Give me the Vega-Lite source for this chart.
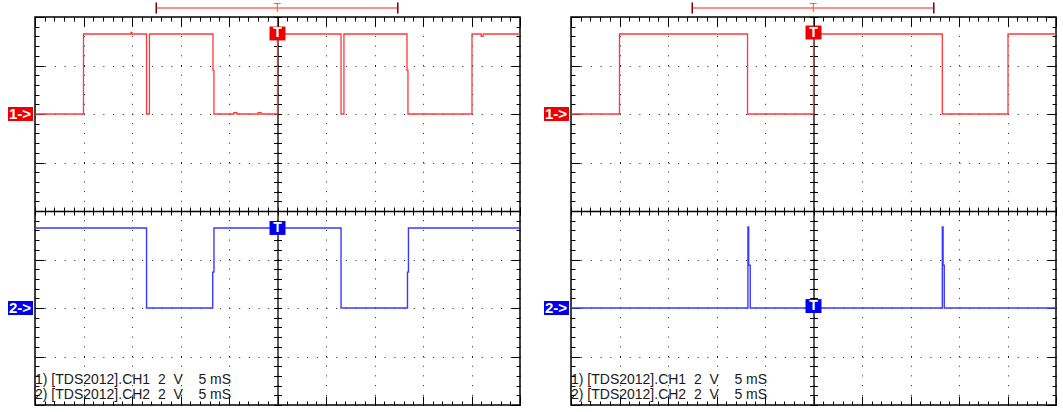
{
  "$schema": "https://vega.github.io/schema/vega-lite/v6.json",
  "background": "white",
  "padding": {"left": 7, "top": 1, "right": 0, "bottom": 0},
  "spacing": 51,
  "bounds": "flush",
  "config": {"view": {"stroke": "#000", "strokeWidth": 1.5}, "axis": {"zindex": 0}},
  "datasets": {
    "L1": [{"t":-25,"v":2},{"t":-20,"v":2},{"t":-20,"v":3.65},{"t":-15.1,"v":3.65},{"t":-15.1,"v":3.68},{"t":-15.0,"v":3.68},{"t":-15.0,"v":3.65},{"t":-13.5,"v":3.65},{"t":-13.5,"v":2},{"t":-13.2,"v":2},{"t":-13.2,"v":3.65},{"t":-6.65,"v":3.65},{"t":-6.65,"v":2.9},{"t":-6.55,"v":2.9},{"t":-6.55,"v":2},{"t":-4.5,"v":2},{"t":-4.5,"v":2.03},{"t":-4.2,"v":2.03},{"t":-4.2,"v":2},{"t":-2,"v":2},{"t":-2,"v":2.03},{"t":-1.7,"v":2.03},{"t":-1.7,"v":2},{"t":0,"v":2},{"t":0,"v":3.65},{"t":6.55,"v":3.65},{"t":6.55,"v":2},{"t":6.85,"v":2},{"t":6.85,"v":3.65},{"t":13.35,"v":3.65},{"t":13.35,"v":2.9},{"t":13.45,"v":2.9},{"t":13.45,"v":2},{"t":20.05,"v":2},{"t":20.05,"v":3.65},{"t":21.0,"v":3.65},{"t":21.0,"v":3.6},{"t":21.2,"v":3.6},{"t":21.2,"v":3.65},{"t":25,"v":3.65}],
    "L2": [{"t":-25,"v":-0.35},{"t":-13.5,"v":-0.35},{"t":-13.5,"v":-2},{"t":-6.68,"v":-2},{"t":-6.68,"v":-1.26},{"t":-6.55,"v":-1.26},{"t":-6.55,"v":-0.35},{"t":6.55,"v":-0.35},{"t":6.55,"v":-2},{"t":13.4,"v":-2},{"t":13.4,"v":-1.26},{"t":13.5,"v":-1.26},{"t":13.5,"v":-0.35},{"t":25,"v":-0.35}],
    "R1": [{"t":-25,"v":2},{"t":-20,"v":2},{"t":-20,"v":3.65},{"t":-6.8,"v":3.65},{"t":-6.8,"v":2},{"t":0,"v":2},{"t":0,"v":3.65},{"t":13.28,"v":3.65},{"t":13.28,"v":2},{"t":20.05,"v":2},{"t":20.05,"v":3.65},{"t":25,"v":3.65}],
    "R2": [{"t":-25,"v":-2},{"t":-6.76,"v":-2},{"t":-6.76,"v":-0.33},{"t":-6.68,"v":-0.33},{"t":-6.68,"v":-1.12},{"t":-6.52,"v":-1.12},{"t":-6.52,"v":-2},{"t":13.28,"v":-2},{"t":13.28,"v":-0.33},{"t":13.36,"v":-0.33},{"t":13.36,"v":-1.12},{"t":13.48,"v":-1.12},{"t":13.48,"v":-2},{"t":25,"v":-2}],
    "LM": [{"kind":"ref","ch":"CH1","label":"1->","t":-25,"v":2},{"kind":"ref","ch":"CH2","label":"2->","t":-25,"v":-2},{"kind":"trig","ch":"CH1","label":"T","t":0,"v":3.66},{"kind":"trig","ch":"CH2","label":"T","t":0,"v":-0.35}],
    "RM": [{"kind":"ref","ch":"CH1","label":"1->","t":-25,"v":2},{"kind":"ref","ch":"CH2","label":"2->","t":-25,"v":-2},{"kind":"trig","ch":"CH1","label":"T","t":0,"v":3.68},{"kind":"trig","ch":"CH2","label":"T","t":0,"v":-1.96}],
    "BR": [{"t":-12.5,"t2":12.4,"v":4.186}],
    "BRE": [{"part":"end","t":-12.5,"v":4.186},{"part":"end","t":12.4,"v":4.186},{"part":"trig","t":0,"v":4.186}],
    "TXT": [{"label":"1) [TDS2012].CH1\u00a0\u00a02\u00a0\u00a0V\u00a0\u00a0\u00a0\u00a05\u00a0mS","t":-25,"v":-3.567},{"label":"2) [TDS2012].CH2\u00a0\u00a02\u00a0\u00a0V\u00a0\u00a0\u00a0\u00a05\u00a0mS","t":-25,"v":-3.876}]
  },
  "hconcat": [
    {
      "width": 485, "height": 388,
      "resolve": {"axis": {"x": "independent", "y": "independent"}},
      "layer": [
        {"data": {"name": "L1"}, "mark": {"type": "line", "color": "#ff3838", "strokeWidth": 1.3},
         "encoding": {
           "x": {"field": "t", "type": "quantitative", "scale": {"domain": [-25, 25], "nice": false, "zero": false},
                 "axis": {"orient": "top", "title": null, "labels": false, "domain": false, "values": [-25,-24,-23,-22,-21,-20,-19,-18,-17,-16,-15,-14,-13,-12,-11,-10,-9,-8,-7,-6,-5,-4,-3,-2,-1,0,1,2,3,4,5,6,7,8,9,10,11,12,13,14,15,16,17,18,19,20,21,22,23,24,25],
                          "tickColor": "#000", "tickWidth": 1, "tickSize": {"condition": {"test": "datum.value % 5 === 0", "value": -9}, "value": -4},
                          "grid": true, "gridColor": "#222", "gridWidth": 1, "gridDash": [1, 8.7], "gridOpacity": {"condition": {"test": "datum.value % 5 === 0", "value": 1}, "value": 0}}},
           "y": {"field": "v", "type": "quantitative", "scale": {"domain": [-4, 4], "nice": false, "zero": false},
                 "axis": {"orient": "left", "title": null, "labels": false, "domain": false, "values": [-4,-3.8,-3.6,-3.4,-3.2,-3,-2.8,-2.6,-2.4,-2.2,-2,-1.8,-1.6,-1.4,-1.2,-1,-0.8,-0.6,-0.4,-0.2,0,0.2,0.4,0.6,0.8,1,1.2,1.4,1.6,1.8,2,2.2,2.4,2.6,2.8,3,3.2,3.4,3.6,3.8,4],
                          "tickColor": "#000", "tickWidth": 1, "tickSize": {"condition": {"test": "abs(datum.value - round(datum.value)) < 0.01", "value": -9}, "value": -4},
                          "grid": true, "gridColor": "#222", "gridWidth": 1, "gridDash": [1, 8.7], "gridOpacity": {"condition": {"test": "abs(datum.value - round(datum.value)) < 0.01", "value": 1}, "value": 0}}}
         }},
        {"data": {"name": "L2"}, "mark": {"type": "line", "color": "#3a3aff", "strokeWidth": 1.4},
         "encoding": {
           "x": {"field": "t", "type": "quantitative", "scale": {"domain": [-25, 25], "nice": false, "zero": false},
                 "axis": {"orient": "bottom", "title": null, "labels": false, "domain": false, "grid": false, "values": [-25,-24,-23,-22,-21,-20,-19,-18,-17,-16,-15,-14,-13,-12,-11,-10,-9,-8,-7,-6,-5,-4,-3,-2,-1,0,1,2,3,4,5,6,7,8,9,10,11,12,13,14,15,16,17,18,19,20,21,22,23,24,25],
                          "tickColor": "#000", "tickWidth": 1, "tickSize": {"condition": {"test": "datum.value % 5 === 0", "value": -9}, "value": -4}}},
           "y": {"field": "v", "type": "quantitative", "scale": {"domain": [-4, 4], "nice": false, "zero": false},
                 "axis": {"orient": "right", "title": null, "labels": false, "domain": false, "grid": false, "values": [-4,-3.8,-3.6,-3.4,-3.2,-3,-2.8,-2.6,-2.4,-2.2,-2,-1.8,-1.6,-1.4,-1.2,-1,-0.8,-0.6,-0.4,-0.2,0,0.2,0.4,0.6,0.8,1,1.2,1.4,1.6,1.8,2,2.2,2.4,2.6,2.8,3,3.2,3.4,3.6,3.8,4],
                          "tickColor": "#000", "tickWidth": 1, "tickSize": {"condition": {"test": "abs(datum.value - round(datum.value)) < 0.01", "value": -9}, "value": -4}}}
         }},
        {"data": {"name": "BR"}, "mark": {"type": "rule", "color": "#ff6a6a", "strokeWidth": 1.5},
         "encoding": {
           "x": {"field": "t", "type": "quantitative", "scale": {"domain": [-25, 25], "nice": false, "zero": false},
                 "axis": {"orient": "bottom", "offset": -194, "title": null, "labels": false, "domain": true, "domainColor": "#000", "domainWidth": 1.3, "grid": false, "values": [-25,-24,-23,-22,-21,-20,-19,-18,-17,-16,-15,-14,-13,-12,-11,-10,-9,-8,-7,-6,-5,-4,-3,-2,-1,0,1,2,3,4,5,6,7,8,9,10,11,12,13,14,15,16,17,18,19,20,21,22,23,24,25],
                          "tickColor": "#000", "tickWidth": 1, "tickSize": 4}},
           "x2": {"field": "t2"},
           "y": {"field": "v", "type": "quantitative", "scale": {"domain": [-4, 4], "nice": false, "zero": false},
                 "axis": {"orient": "left", "offset": -242.5, "title": null, "labels": false, "domain": true, "domainColor": "#000", "domainWidth": 1.3, "grid": false, "values": [-4,-3.8,-3.6,-3.4,-3.2,-3,-2.8,-2.6,-2.4,-2.2,-2,-1.8,-1.6,-1.4,-1.2,-1,-0.8,-0.6,-0.4,-0.2,0,0.2,0.4,0.6,0.8,1,1.2,1.4,1.6,1.8,2,2.2,2.4,2.6,2.8,3,3.2,3.4,3.6,3.8,4],
                          "tickColor": "#000", "tickWidth": 1, "tickSize": 4}}
         }},
        {"data": {"name": "BRE"}, "transform": [{"filter": "datum.part === 'end'"}],
         "mark": {"type": "tick", "orient": "vertical", "size": 11, "thickness": 1.5, "color": "#7a0000", "opacity": 1},
         "encoding": {
           "x": {"field": "t", "type": "quantitative", "scale": {"domain": [-25, 25], "nice": false, "zero": false},
                 "axis": {"orient": "bottom", "offset": -194, "title": null, "labels": false, "domain": false, "grid": false, "values": [-25,-24,-23,-22,-21,-20,-19,-18,-17,-16,-15,-14,-13,-12,-11,-10,-9,-8,-7,-6,-5,-4,-3,-2,-1,0,1,2,3,4,5,6,7,8,9,10,11,12,13,14,15,16,17,18,19,20,21,22,23,24,25],
                          "tickColor": "#000", "tickWidth": 1, "tickSize": -4}},
           "y": {"field": "v", "type": "quantitative", "scale": {"domain": [-4, 4], "nice": false, "zero": false},
                 "axis": {"orient": "left", "offset": -242.5, "title": null, "labels": false, "domain": false, "grid": false, "values": [-4,-3.8,-3.6,-3.4,-3.2,-3,-2.8,-2.6,-2.4,-2.2,-2,-1.8,-1.6,-1.4,-1.2,-1,-0.8,-0.6,-0.4,-0.2,0,0.2,0.4,0.6,0.8,1,1.2,1.4,1.6,1.8,2,2.2,2.4,2.6,2.8,3,3.2,3.4,3.6,3.8,4],
                          "tickColor": "#000", "tickWidth": 1, "tickSize": -4}}
         }},
        {"data": {"name": "BRE"}, "transform": [{"filter": "datum.part === 'trig'"}],
         "mark": {"type": "text", "text": "T", "font": "Liberation Sans", "fontSize": 12, "color": "#ff5a5a", "baseline": "alphabetic", "dy": 4.3},
         "encoding": {
           "x": {"field": "t", "type": "quantitative", "scale": {"domain": [-25, 25], "nice": false, "zero": false}, "axis": null},
           "y": {"field": "v", "type": "quantitative", "scale": {"domain": [-4, 4], "nice": false, "zero": false}, "axis": null}
         }},
        {"data": {"name": "LM"}, "transform": [{"filter": "datum.kind === 'ref'"}],
         "mark": {"type": "point", "filled": true, "opacity": 1, "strokeWidth": 0, "size": 625, "xOffset": -14.5, "shape": "M-1,-0.56L1,-0.56L1,0.56L-1,0.56Z"},
         "encoding": {
           "x": {"field": "t", "type": "quantitative", "scale": {"domain": [-25, 25], "nice": false, "zero": false}, "axis": null},
           "y": {"field": "v", "type": "quantitative", "scale": {"domain": [-4, 4], "nice": false, "zero": false}, "axis": null},
           "color": {"condition": {"test": "datum.ch === 'CH1'", "value": "#ee0000"}, "value": "#0000ee"}
         }},
        {"data": {"name": "LM"}, "transform": [{"filter": "datum.kind === 'ref'"}],
         "mark": {"type": "text", "font": "Liberation Sans", "fontSize": 15, "fontWeight": "bold", "color": "white", "align": "center", "baseline": "middle", "dx": -15},
         "encoding": {
           "x": {"field": "t", "type": "quantitative", "scale": {"domain": [-25, 25], "nice": false, "zero": false}, "axis": null},
           "y": {"field": "v", "type": "quantitative", "scale": {"domain": [-4, 4], "nice": false, "zero": false}, "axis": null},
           "text": {"field": "label"}
         }},
        {"data": {"name": "LM"}, "transform": [{"filter": "datum.kind === 'trig'"}],
         "mark": {"type": "point", "filled": true, "opacity": 1, "strokeWidth": 0, "size": 256, "shape": "M-1,-0.87L1,-0.87L1,0.87L-1,0.87Z"},
         "encoding": {
           "x": {"field": "t", "type": "quantitative", "scale": {"domain": [-25, 25], "nice": false, "zero": false}, "axis": null},
           "y": {"field": "v", "type": "quantitative", "scale": {"domain": [-4, 4], "nice": false, "zero": false}, "axis": null},
           "color": {"condition": {"test": "datum.ch === 'CH1'", "value": "#ee0000"}, "value": "#0000ee"}
         }},
        {"data": {"name": "LM"}, "transform": [{"filter": "datum.kind === 'trig'"}],
         "mark": {"type": "text", "font": "Liberation Sans", "fontSize": 14, "fontWeight": "bold", "color": "white", "align": "center", "baseline": "middle"},
         "encoding": {
           "x": {"field": "t", "type": "quantitative", "scale": {"domain": [-25, 25], "nice": false, "zero": false}, "axis": null},
           "y": {"field": "v", "type": "quantitative", "scale": {"domain": [-4, 4], "nice": false, "zero": false}, "axis": null},
           "text": {"field": "label"}
         }},
        {"data": {"name": "TXT"},
         "mark": {"type": "text", "font": "Liberation Sans", "fontSize": 14, "color": "#1a1a1a", "align": "left", "baseline": "alphabetic"},
         "encoding": {
           "x": {"field": "t", "type": "quantitative", "scale": {"domain": [-25, 25], "nice": false, "zero": false}, "axis": null},
           "y": {"field": "v", "type": "quantitative", "scale": {"domain": [-4, 4], "nice": false, "zero": false}, "axis": null},
           "text": {"field": "label"}
         }}
      ]
    },
    {
      "width": 485, "height": 388,
      "resolve": {"axis": {"x": "independent", "y": "independent"}},
      "layer": [
        {"data": {"name": "R1"}, "mark": {"type": "line", "color": "#ff3838", "strokeWidth": 1.3},
         "encoding": {
           "x": {"field": "t", "type": "quantitative", "scale": {"domain": [-25, 25], "nice": false, "zero": false},
                 "axis": {"orient": "top", "title": null, "labels": false, "domain": false, "values": [-25,-24,-23,-22,-21,-20,-19,-18,-17,-16,-15,-14,-13,-12,-11,-10,-9,-8,-7,-6,-5,-4,-3,-2,-1,0,1,2,3,4,5,6,7,8,9,10,11,12,13,14,15,16,17,18,19,20,21,22,23,24,25],
                          "tickColor": "#000", "tickWidth": 1, "tickSize": {"condition": {"test": "datum.value % 5 === 0", "value": -9}, "value": -4},
                          "grid": true, "gridColor": "#222", "gridWidth": 1, "gridDash": [1, 8.7], "gridOpacity": {"condition": {"test": "datum.value % 5 === 0", "value": 1}, "value": 0}}},
           "y": {"field": "v", "type": "quantitative", "scale": {"domain": [-4, 4], "nice": false, "zero": false},
                 "axis": {"orient": "left", "title": null, "labels": false, "domain": false, "values": [-4,-3.8,-3.6,-3.4,-3.2,-3,-2.8,-2.6,-2.4,-2.2,-2,-1.8,-1.6,-1.4,-1.2,-1,-0.8,-0.6,-0.4,-0.2,0,0.2,0.4,0.6,0.8,1,1.2,1.4,1.6,1.8,2,2.2,2.4,2.6,2.8,3,3.2,3.4,3.6,3.8,4],
                          "tickColor": "#000", "tickWidth": 1, "tickSize": {"condition": {"test": "abs(datum.value - round(datum.value)) < 0.01", "value": -9}, "value": -4},
                          "grid": true, "gridColor": "#222", "gridWidth": 1, "gridDash": [1, 8.7], "gridOpacity": {"condition": {"test": "abs(datum.value - round(datum.value)) < 0.01", "value": 1}, "value": 0}}}
         }},
        {"data": {"name": "R2"}, "mark": {"type": "line", "color": "#3a3aff", "strokeWidth": 1.4},
         "encoding": {
           "x": {"field": "t", "type": "quantitative", "scale": {"domain": [-25, 25], "nice": false, "zero": false},
                 "axis": {"orient": "bottom", "title": null, "labels": false, "domain": false, "grid": false, "values": [-25,-24,-23,-22,-21,-20,-19,-18,-17,-16,-15,-14,-13,-12,-11,-10,-9,-8,-7,-6,-5,-4,-3,-2,-1,0,1,2,3,4,5,6,7,8,9,10,11,12,13,14,15,16,17,18,19,20,21,22,23,24,25],
                          "tickColor": "#000", "tickWidth": 1, "tickSize": {"condition": {"test": "datum.value % 5 === 0", "value": -9}, "value": -4}}},
           "y": {"field": "v", "type": "quantitative", "scale": {"domain": [-4, 4], "nice": false, "zero": false},
                 "axis": {"orient": "right", "title": null, "labels": false, "domain": false, "grid": false, "values": [-4,-3.8,-3.6,-3.4,-3.2,-3,-2.8,-2.6,-2.4,-2.2,-2,-1.8,-1.6,-1.4,-1.2,-1,-0.8,-0.6,-0.4,-0.2,0,0.2,0.4,0.6,0.8,1,1.2,1.4,1.6,1.8,2,2.2,2.4,2.6,2.8,3,3.2,3.4,3.6,3.8,4],
                          "tickColor": "#000", "tickWidth": 1, "tickSize": {"condition": {"test": "abs(datum.value - round(datum.value)) < 0.01", "value": -9}, "value": -4}}}
         }},
        {"data": {"name": "BR"}, "mark": {"type": "rule", "color": "#ff6a6a", "strokeWidth": 1.5},
         "encoding": {
           "x": {"field": "t", "type": "quantitative", "scale": {"domain": [-25, 25], "nice": false, "zero": false},
                 "axis": {"orient": "bottom", "offset": -194, "title": null, "labels": false, "domain": true, "domainColor": "#000", "domainWidth": 1.3, "grid": false, "values": [-25,-24,-23,-22,-21,-20,-19,-18,-17,-16,-15,-14,-13,-12,-11,-10,-9,-8,-7,-6,-5,-4,-3,-2,-1,0,1,2,3,4,5,6,7,8,9,10,11,12,13,14,15,16,17,18,19,20,21,22,23,24,25],
                          "tickColor": "#000", "tickWidth": 1, "tickSize": 4}},
           "x2": {"field": "t2"},
           "y": {"field": "v", "type": "quantitative", "scale": {"domain": [-4, 4], "nice": false, "zero": false},
                 "axis": {"orient": "left", "offset": -242.5, "title": null, "labels": false, "domain": true, "domainColor": "#000", "domainWidth": 1.3, "grid": false, "values": [-4,-3.8,-3.6,-3.4,-3.2,-3,-2.8,-2.6,-2.4,-2.2,-2,-1.8,-1.6,-1.4,-1.2,-1,-0.8,-0.6,-0.4,-0.2,0,0.2,0.4,0.6,0.8,1,1.2,1.4,1.6,1.8,2,2.2,2.4,2.6,2.8,3,3.2,3.4,3.6,3.8,4],
                          "tickColor": "#000", "tickWidth": 1, "tickSize": 4}}
         }},
        {"data": {"name": "BRE"}, "transform": [{"filter": "datum.part === 'end'"}],
         "mark": {"type": "tick", "orient": "vertical", "size": 11, "thickness": 1.5, "color": "#7a0000", "opacity": 1},
         "encoding": {
           "x": {"field": "t", "type": "quantitative", "scale": {"domain": [-25, 25], "nice": false, "zero": false},
                 "axis": {"orient": "bottom", "offset": -194, "title": null, "labels": false, "domain": false, "grid": false, "values": [-25,-24,-23,-22,-21,-20,-19,-18,-17,-16,-15,-14,-13,-12,-11,-10,-9,-8,-7,-6,-5,-4,-3,-2,-1,0,1,2,3,4,5,6,7,8,9,10,11,12,13,14,15,16,17,18,19,20,21,22,23,24,25],
                          "tickColor": "#000", "tickWidth": 1, "tickSize": -4}},
           "y": {"field": "v", "type": "quantitative", "scale": {"domain": [-4, 4], "nice": false, "zero": false},
                 "axis": {"orient": "left", "offset": -242.5, "title": null, "labels": false, "domain": false, "grid": false, "values": [-4,-3.8,-3.6,-3.4,-3.2,-3,-2.8,-2.6,-2.4,-2.2,-2,-1.8,-1.6,-1.4,-1.2,-1,-0.8,-0.6,-0.4,-0.2,0,0.2,0.4,0.6,0.8,1,1.2,1.4,1.6,1.8,2,2.2,2.4,2.6,2.8,3,3.2,3.4,3.6,3.8,4],
                          "tickColor": "#000", "tickWidth": 1, "tickSize": -4}}
         }},
        {"data": {"name": "BRE"}, "transform": [{"filter": "datum.part === 'trig'"}],
         "mark": {"type": "text", "text": "T", "font": "Liberation Sans", "fontSize": 12, "color": "#ff5a5a", "baseline": "alphabetic", "dy": 4.3},
         "encoding": {
           "x": {"field": "t", "type": "quantitative", "scale": {"domain": [-25, 25], "nice": false, "zero": false}, "axis": null},
           "y": {"field": "v", "type": "quantitative", "scale": {"domain": [-4, 4], "nice": false, "zero": false}, "axis": null}
         }},
        {"data": {"name": "RM"}, "transform": [{"filter": "datum.kind === 'ref'"}],
         "mark": {"type": "point", "filled": true, "opacity": 1, "strokeWidth": 0, "size": 625, "xOffset": -14.5, "shape": "M-1,-0.56L1,-0.56L1,0.56L-1,0.56Z"},
         "encoding": {
           "x": {"field": "t", "type": "quantitative", "scale": {"domain": [-25, 25], "nice": false, "zero": false}, "axis": null},
           "y": {"field": "v", "type": "quantitative", "scale": {"domain": [-4, 4], "nice": false, "zero": false}, "axis": null},
           "color": {"condition": {"test": "datum.ch === 'CH1'", "value": "#ee0000"}, "value": "#0000ee"}
         }},
        {"data": {"name": "RM"}, "transform": [{"filter": "datum.kind === 'ref'"}],
         "mark": {"type": "text", "font": "Liberation Sans", "fontSize": 15, "fontWeight": "bold", "color": "white", "align": "center", "baseline": "middle", "dx": -15},
         "encoding": {
           "x": {"field": "t", "type": "quantitative", "scale": {"domain": [-25, 25], "nice": false, "zero": false}, "axis": null},
           "y": {"field": "v", "type": "quantitative", "scale": {"domain": [-4, 4], "nice": false, "zero": false}, "axis": null},
           "text": {"field": "label"}
         }},
        {"data": {"name": "RM"}, "transform": [{"filter": "datum.kind === 'trig'"}],
         "mark": {"type": "point", "filled": true, "opacity": 1, "strokeWidth": 0, "size": 256, "shape": "M-1,-0.87L1,-0.87L1,0.87L-1,0.87Z"},
         "encoding": {
           "x": {"field": "t", "type": "quantitative", "scale": {"domain": [-25, 25], "nice": false, "zero": false}, "axis": null},
           "y": {"field": "v", "type": "quantitative", "scale": {"domain": [-4, 4], "nice": false, "zero": false}, "axis": null},
           "color": {"condition": {"test": "datum.ch === 'CH1'", "value": "#ee0000"}, "value": "#0000ee"}
         }},
        {"data": {"name": "RM"}, "transform": [{"filter": "datum.kind === 'trig'"}],
         "mark": {"type": "text", "font": "Liberation Sans", "fontSize": 14, "fontWeight": "bold", "color": "white", "align": "center", "baseline": "middle"},
         "encoding": {
           "x": {"field": "t", "type": "quantitative", "scale": {"domain": [-25, 25], "nice": false, "zero": false}, "axis": null},
           "y": {"field": "v", "type": "quantitative", "scale": {"domain": [-4, 4], "nice": false, "zero": false}, "axis": null},
           "text": {"field": "label"}
         }},
        {"data": {"name": "TXT"},
         "mark": {"type": "text", "font": "Liberation Sans", "fontSize": 14, "color": "#1a1a1a", "align": "left", "baseline": "alphabetic"},
         "encoding": {
           "x": {"field": "t", "type": "quantitative", "scale": {"domain": [-25, 25], "nice": false, "zero": false}, "axis": null},
           "y": {"field": "v", "type": "quantitative", "scale": {"domain": [-4, 4], "nice": false, "zero": false}, "axis": null},
           "text": {"field": "label"}
         }}
      ]
    }
  ]
}
